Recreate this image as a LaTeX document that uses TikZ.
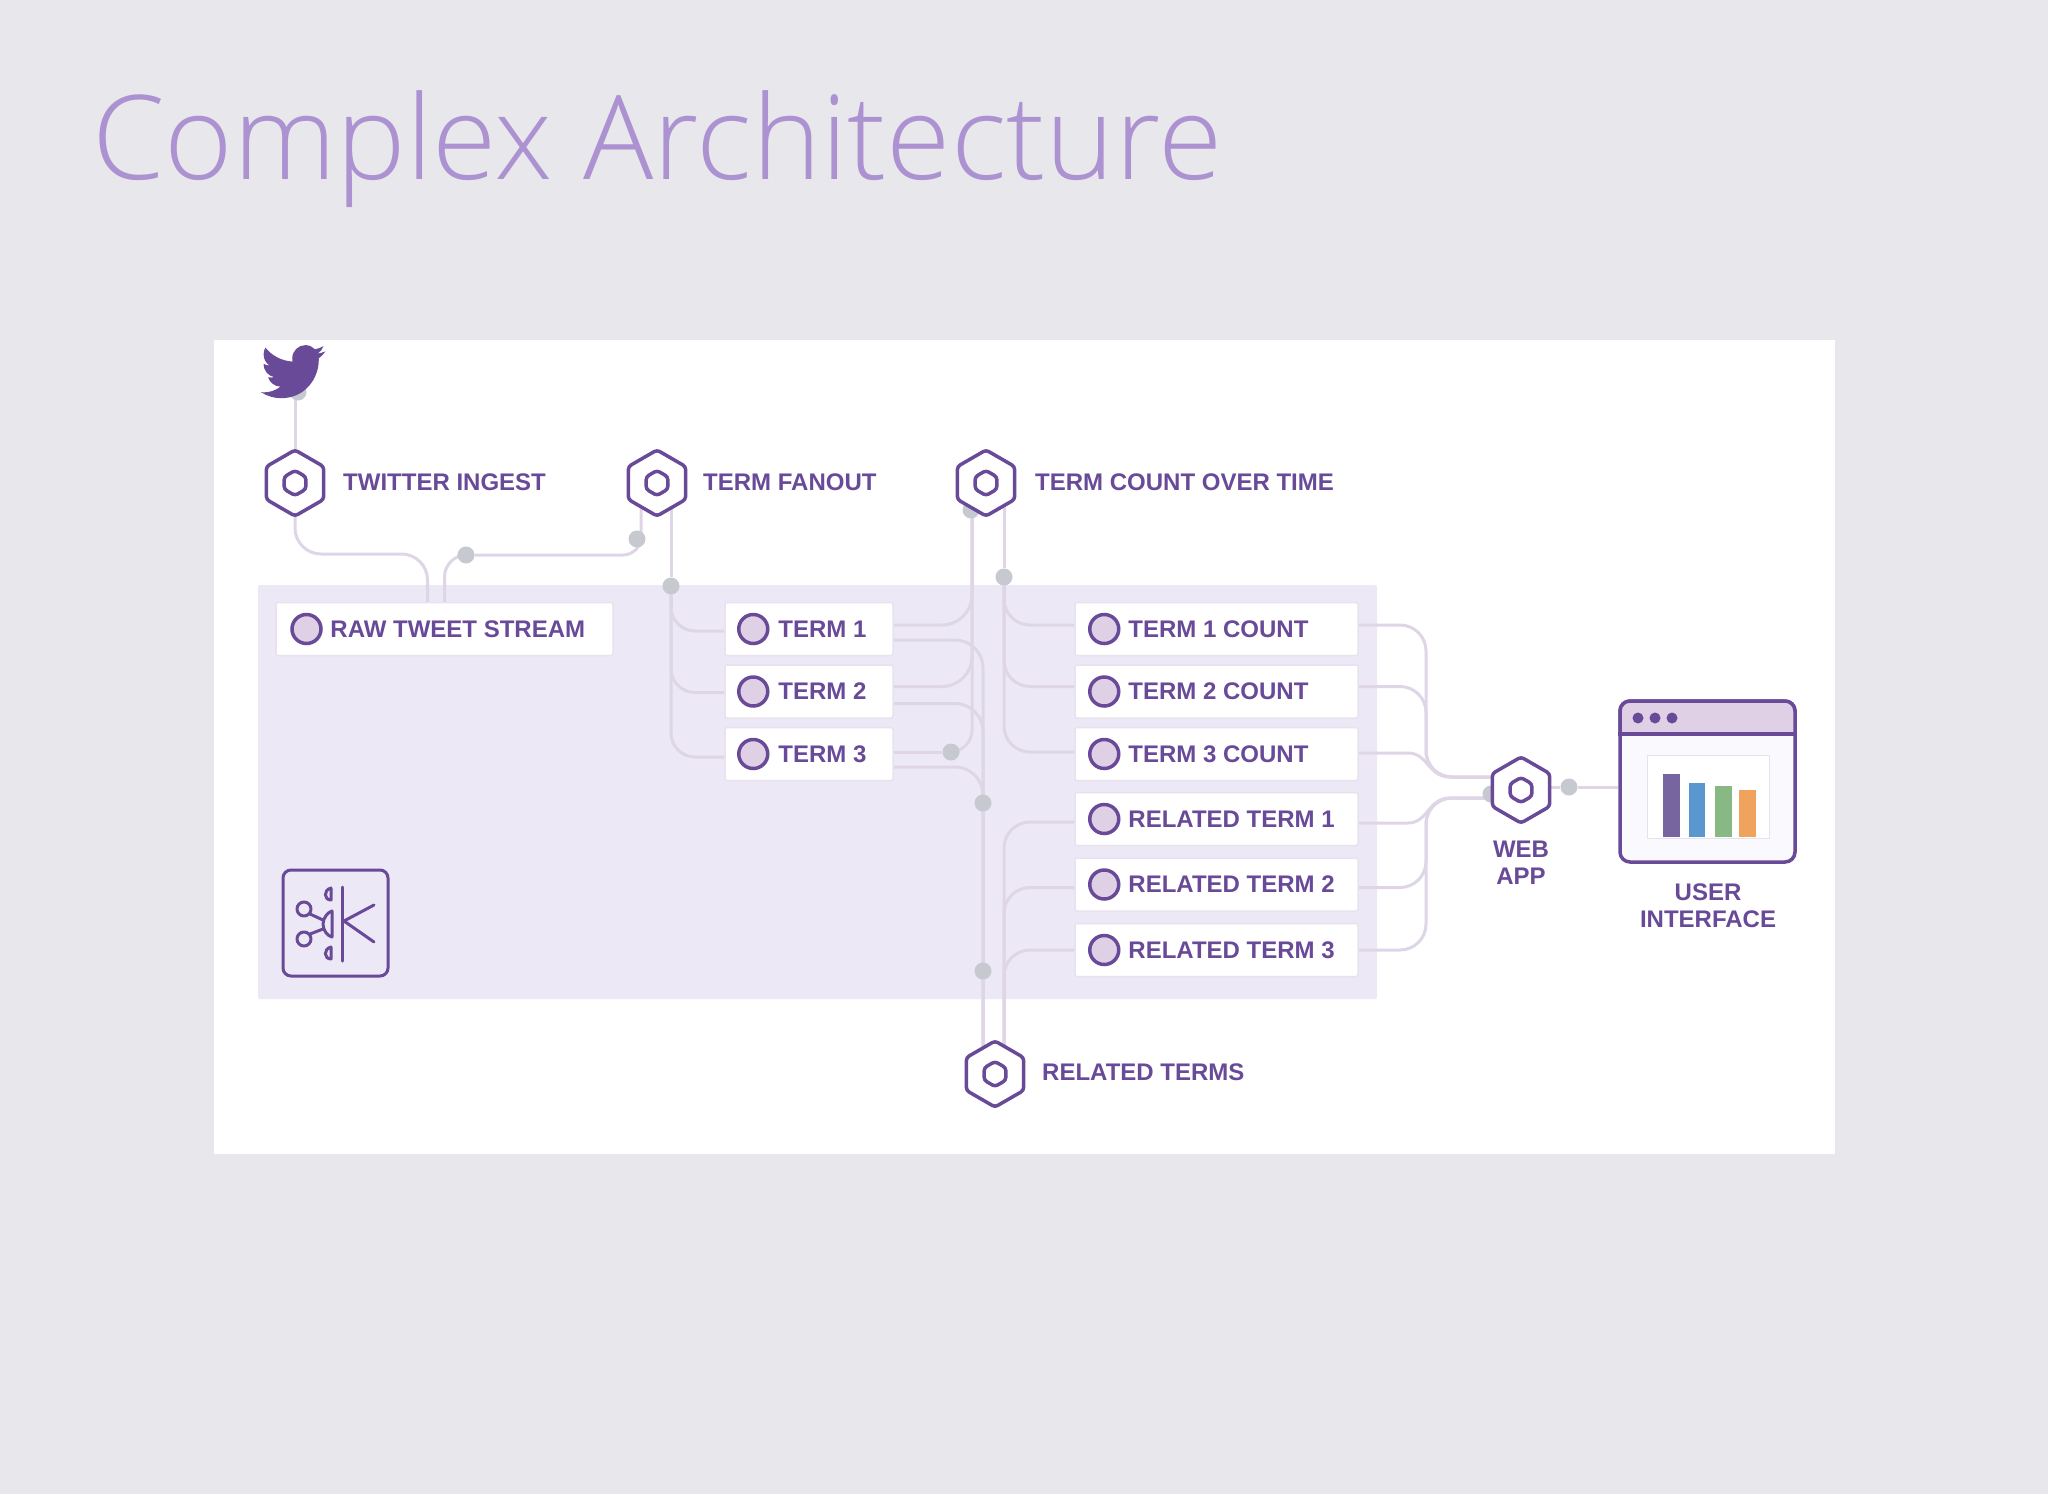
\documentclass[tikz,border=0pt]{standalone}
\usepackage{fontspec}
\setmainfont{Liberation Sans}
\newfontfamily\titlefont[UprightFont={* Light}]{Open Sans}
\usepackage{xcolor}
\usepackage{tikz}
\usetikzlibrary{shapes.geometric, backgrounds}
\definecolor{pagegrey}{HTML}{E8E7EC}
\definecolor{lavender}{HTML}{ECE8F6}
\definecolor{hexpurple}{HTML}{684A98}
\definecolor{titlepurple}{HTML}{AC92D0}
\definecolor{wiregrey}{HTML}{DED6E7}
\definecolor{dotgrey}{HTML}{C7C9D1}
\definecolor{dotfill}{HTML}{DFD0E6}
\definecolor{uifill}{HTML}{FAF9FD}
\definecolor{barpurple}{HTML}{7765A0}
\definecolor{barblue}{HTML}{5B97CF}
\definecolor{bargreen}{HTML}{88B985}
\definecolor{barorange}{HTML}{F0A35C}
\tikzstyle{hexnode} = [regular polygon, regular polygon sides=6, shape border rotate=30,
minimum size=66pt,
inner sep=0pt,
rounded corners=3pt,
line width=3.5pt,
fill=white,
draw=hexpurple]
\tikzstyle{hexcore} = [regular polygon, regular polygon sides=6, shape border rotate=30,
minimum size=25pt,
inner sep=0pt,
rounded corners=3pt,
line width=3.5pt,
draw=hexpurple]
\tikzstyle{flowlabel} = [anchor=west,
inner sep=0pt,
align=center,
text=hexpurple,
font=\bfseries\fontsize{24}{27}\selectfont]
\tikzstyle{termbox} = [rectangle, rounded corners=2pt,
minimum height=53pt,
inner sep=0pt,
fill=white,
line width=1.5pt,
draw=wiregrey!70]
\tikzstyle{termdot} = [circle,
minimum size=29pt,
inner sep=0pt,
line width=3.5pt,
fill=dotfill,
draw=hexpurple]
\tikzstyle{junction} = [circle,
minimum size=17pt,
inner sep=0pt,
fill=dotgrey]
\tikzstyle{wire} = [line width=3pt, draw=wiregrey]
\tikzstyle{iconline} = [line width=3pt, draw=hexpurple, line cap=round, line join=round]

\begin{document}
\begin{tikzpicture}[x=1pt, y=-1pt, node distance=62.5pt]
		\useasboundingbox (0,0) rectangle (2048,1494);

		\node (heading) [anchor=base west, inner sep=0pt, text=titlepurple, font=\titlefont\fontsize{117}{120}\selectfont] at (92,179) {Complex Architecture};

		% the boxes of the stream panel
		\node (raw) [termbox, minimum width=337pt] at (444.5,629) {};
		\node (term1) [termbox, minimum width=168pt] at (809,629) {};
		\node (term2) [termbox, minimum width=168pt, below of=term1] {};
		\node (term3) [termbox, minimum width=168pt, below of=term2] {};
		\node (count1) [termbox, minimum width=283pt] at (1216.5,629) {};
		\node (count2) [termbox, minimum width=283pt, below of=count1] {};
		\node (count3) [termbox, minimum width=283pt, below of=count2] {};
		\node (rel1) [termbox, minimum width=283pt] at (1216.5,819) {};
		\node (rel2) [termbox, minimum width=283pt, below of=rel1, yshift=-3pt] {};
		\node (rel3) [termbox, minimum width=283pt, below of=rel2, yshift=-3pt] {};

		\node (rawdot) [termdot] at ([xshift=-138pt]raw.center) {};
		\node (rawtext) [flowlabel] at ([xshift=55pt]raw.west) {RAW TWEET STREAM};
		\node (term1dot) [termdot] at ([xshift=29pt]term1.west) {};
		\node (term1text) [flowlabel] at ([xshift=54pt]term1.west) {TERM 1};
		\node (term2dot) [termdot] at ([xshift=29pt]term2.west) {};
		\node (term2text) [flowlabel] at ([xshift=54pt]term2.west) {TERM 2};
		\node (term3dot) [termdot] at ([xshift=29pt]term3.west) {};
		\node (term3text) [flowlabel] at ([xshift=54pt]term3.west) {TERM 3};
		\node (count1dot) [termdot] at ([xshift=30pt]count1.west) {};
		\node (count1text) [flowlabel] at ([xshift=54pt]count1.west) {TERM 1 COUNT};
		\node (count2dot) [termdot] at ([xshift=30pt]count2.west) {};
		\node (count2text) [flowlabel] at ([xshift=54pt]count2.west) {TERM 2 COUNT};
		\node (count3dot) [termdot] at ([xshift=30pt]count3.west) {};
		\node (count3text) [flowlabel] at ([xshift=54pt]count3.west) {TERM 3 COUNT};
		\node (rel1dot) [termdot] at ([xshift=30pt]rel1.west) {};
		\node (rel1text) [flowlabel] at ([xshift=54pt]rel1.west) {RELATED TERM 1};
		\node (rel2dot) [termdot] at ([xshift=30pt]rel2.west) {};
		\node (rel2text) [flowlabel] at ([xshift=54pt]rel2.west) {RELATED TERM 2};
		\node (rel3dot) [termdot] at ([xshift=30pt]rel3.west) {};
		\node (rel3text) [flowlabel] at ([xshift=54pt]rel3.west) {RELATED TERM 3};

		% junctions, drawn before the hexagons that hide some of them
		\node (birddot) [junction] at (298,392) {};
		\node (rawout) [junction] at (466,555) {};
		\node (fanin) [junction] at (637,539) {};
		\node (fanout) [junction] at (671,586) {};
		\node (countin) [junction] at (971,510) {};
		\node (countout) [junction] at (1004,577) {};
		\node (term3out) [junction] at (951,752) {};
		\node (relin) [junction] at (983,803) {};
		\node (relout) [junction] at (983,971) {};
		\node (webin) [junction] at (1491,794) {};
		\node (webout) [junction] at (1569,787) {};

		\node (ingest) [hexnode] at (295,483) {};
		\node (ingestcore) [hexcore] at (ingest.center) {};
		\node (ingestlabel) [flowlabel] at (343,482) {TWITTER INGEST};
		\node (fan) [hexnode] at (657,483) {};
		\node (fancore) [hexcore] at (fan.center) {};
		\node (fanlabel) [flowlabel] at (703,482) {TERM FANOUT};
		\node (tcount) [hexnode] at (986,483) {};
		\node (tcountcore) [hexcore] at (tcount.center) {};
		\node (tcountlabel) [flowlabel] at (1035,482) {TERM COUNT OVER TIME};
		\node (related) [hexnode] at (995,1074) {};
		\node (relatedcore) [hexcore] at (related.center) {};
		\node (relatedlabel) [flowlabel] at (1042,1072) {RELATED TERMS};
		\node (webapp) [hexnode] at (1521,790) {};
		\node (webcore) [hexcore] at (webapp.center) {};
		\node (weblabel) [flowlabel, anchor=center] at (1521,863) {WEB\\APP};

		% user interface window
		\node (uiwin) [rectangle, rounded corners=10pt, minimum width=175pt, minimum height=161pt, line width=3.5pt, fill=uifill, draw=hexpurple] at (1707.5,781.5) {};
		\draw [line width=3.5pt, draw=hexpurple, fill=dotfill, rounded corners=10pt] (1620,734) -- (1620,701) -- (1795,701) -- (1795,734);
		\draw [line width=3.5pt, draw=hexpurple, line cap=rect] (1620,734) -- (1795,734);
		\fill [hexpurple] (1638,718) circle (5.5) (1655,718) circle (5.5) (1672,718) circle (5.5);
		\draw [fill=white, draw=wiregrey!70, line width=1pt] (1647,755) rectangle (1769,838);
		\fill [fill=barpurple] (1663,774) rectangle (1680,837);
		\fill [fill=barblue] (1689,783) rectangle (1705,837);
		\fill [fill=bargreen] (1715,786) rectangle (1732,837);
		\fill [fill=barorange] (1739,790) rectangle (1756,837);
		\node (uilabel) [flowlabel, anchor=center] at (1708,905.5) {USER\\INTERFACE};

		% bird
		\begin{scope}[shift={(261,339)}, x=2.68pt, y=-2.72pt]
			\fill [hexpurple] (23.95,4.57) .. controls (23.07,4.96) and (22.12,5.22) .. (21.13,5.345)
				.. controls (22.13,4.75) and (22.92,3.79) .. (23.29,2.62)
				.. controls (22.34,3.18) and (21.29,3.58) .. (20.16,3.80)
				.. controls (19.26,2.84) and (18.0,2.25) .. (16.56,2.25)
				.. controls (13.85,2.25) and (11.65,4.45) .. (11.65,7.17)
				.. controls (11.65,7.55) and (11.69,7.93) .. (11.78,8.29)
				.. controls (7.69,8.095) and (4.067,6.13) .. (1.64,3.162)
				.. controls (1.21,3.89) and (0.97,4.74) .. (0.974,5.637)
				.. controls (0.974,7.347) and (1.844,8.85) .. (3.162,9.733)
				.. controls (2.36,9.71) and (1.6,9.49) .. (0.934,9.117)
				-- (0.934,9.177)
				.. controls (0.934,11.56) and (2.63,13.55) .. (4.88,14.004)
				.. controls (4.16,14.19) and (3.41,14.22) .. (2.668,14.089)
				.. controls (3.31,16.09) and (5.16,17.46) .. (7.272,17.506)
				.. controls (5.6,18.82) and (3.48,19.611) .. (1.17,19.611)
				.. controls (0.78,19.611) and (0.391,19.588) .. (0,19.544)
				.. controls (2.18,20.94) and (4.77,21.753) .. (7.557,21.753)
				.. controls (16.61,21.753) and (21.555,14.257) .. (21.555,7.768)
				.. controls (21.555,7.558) and (21.555,7.348) .. (21.54,7.138)
				.. controls (22.5,6.44) and (23.34,5.56) .. (24,4.59) -- cycle;
		\end{scope}

		% icon in the panel corner
		\node (kafka) [rectangle, rounded corners=8pt, minimum width=105pt, minimum height=106pt, line width=3pt, draw=hexpurple] at (335.5,923) {};
		\draw [iconline] (342,887) -- (342,961);
		\draw [iconline] (374,905) -- (344,921) -- (374,942);
		\draw [iconline] (304,909) circle (7) (304,939) circle (7);
		\draw [iconline] (310,914) -- (323,920) (310,934) -- (323,929);
		\draw [iconline] (332,911) -- (332,937) .. controls (328,936) and (323,931) .. (323,924) .. controls (323,918) and (328,912) .. cycle;
		\draw [iconline] (331,888) -- (331,900) .. controls (324,900) and (323,890) .. cycle;
		\draw [iconline] (331,947) -- (331,959) .. controls (324,959) and (323,949) .. cycle;

		\begin{pgfonlayer}{background}
			\fill [pagegrey] (0,0) rectangle (2048,1494);
			\node (sheet) [rectangle, minimum width=1621pt, minimum height=814pt, inner sep=0pt, outer sep=0pt, fill=white] at (1024.5,747) {};
			\node (panel) [rectangle, rounded corners=2pt, minimum width=1119pt, minimum height=414pt, inner sep=0pt, outer sep=0pt, fill=lavender] at (817.5,792) {};

			\coordinate (busup) at (1426,777);
			\coordinate (busdown) at (1426,798);
			\coordinate (webup) at ([yshift=13pt]webapp.center);
			\coordinate (webdown) at ([yshift=-8pt]webapp.center);

			\draw [wire] (ingest.center) -- (ingest.center |- birddot);
			\draw [wire, rounded corners=26pt] (ingest.center) |- (360,554) -| ([xshift=-17pt]raw.north);
			\draw [wire, rounded corners=22pt] (raw.north) |- (rawout);
			\draw [wire, rounded corners=18pt] (rawout) -| ([xshift=-16pt]fan.center);
			\draw [wire] ([xshift=14pt]fan.center) -- (fanout);
			\draw [wire, rounded corners=24pt] (fanout) |- ([yshift=-2pt]term1.west);
			\draw [wire, rounded corners=24pt] (fanout) |- ([yshift=-1pt]term2.west);
			\draw [wire, rounded corners=24pt] (fanout) |- ([yshift=-3pt]term3.west);

			\draw [wire, rounded corners=30pt] ([yshift=4pt]term1.east) -| ([xshift=-14pt]tcount.center);
			\draw [wire, rounded corners=30pt] ([yshift=5pt]term2.east) -| ([xshift=-14pt]tcount.center);
			\draw [wire] (term3out -| term3.east) -- (term3out);
			\draw [wire, rounded corners=22pt] (term3out) -| ([xshift=-14pt]tcount.center);
			\draw [wire, rounded corners=28pt] ([yshift=-11pt]term1.east) -| ([xshift=-12pt]related.center);
			\draw [wire, rounded corners=28pt] ([yshift=-12pt]term2.east) -| ([xshift=-12pt]related.center);
			\draw [wire, rounded corners=28pt] ([yshift=-13pt]term3.east) -| ([xshift=-12pt]related.center);

			\draw [wire] ([xshift=18pt]tcount.center) -- (countout);
			\draw [wire, rounded corners=26pt] (countout) |- ([yshift=4pt]count1.west);
			\draw [wire, rounded corners=26pt] (countout) |- ([yshift=5pt]count2.west);
			\draw [wire, rounded corners=26pt] (countout) |- ([yshift=2pt]count3.west);

			\draw [wire, rounded corners=26pt] ([xshift=9pt]related.center) |- ([yshift=-3pt]rel1.west);
			\draw [wire, rounded corners=26pt] ([xshift=9pt]related.center) |- ([yshift=-3pt]rel2.west);
			\draw [wire, rounded corners=26pt] ([xshift=9pt]related.center) |- (rel3.west);

			\draw [wire, rounded corners=26pt] ([yshift=4pt]count1.east) -| (busup) -- (webup);
			\draw [wire, rounded corners=26pt] ([yshift=5pt]count2.east) -| (busup) -- (webup);
			\draw [wire] ([yshift=1pt]count3.east) -- (1408,753) .. controls (1428,753) and (1428,777) .. (1450,777) -- (webup);
			\draw [wire] ([yshift=-4pt]rel1.east) -- (1408,823) .. controls (1428,823) and (1428,798) .. (1450,798) -- (webdown);
			\draw [wire, rounded corners=26pt] ([yshift=-3pt]rel2.east) -| (busdown) -- (webdown);
			\draw [wire, rounded corners=26pt] (rel3.east) -| (busdown) -- (webdown);
			\draw [wire] ([yshift=3pt]webapp.center) -- (webout) -- (webout -| uiwin.west);
		\end{pgfonlayer}
	\end{tikzpicture}
\end{document}
